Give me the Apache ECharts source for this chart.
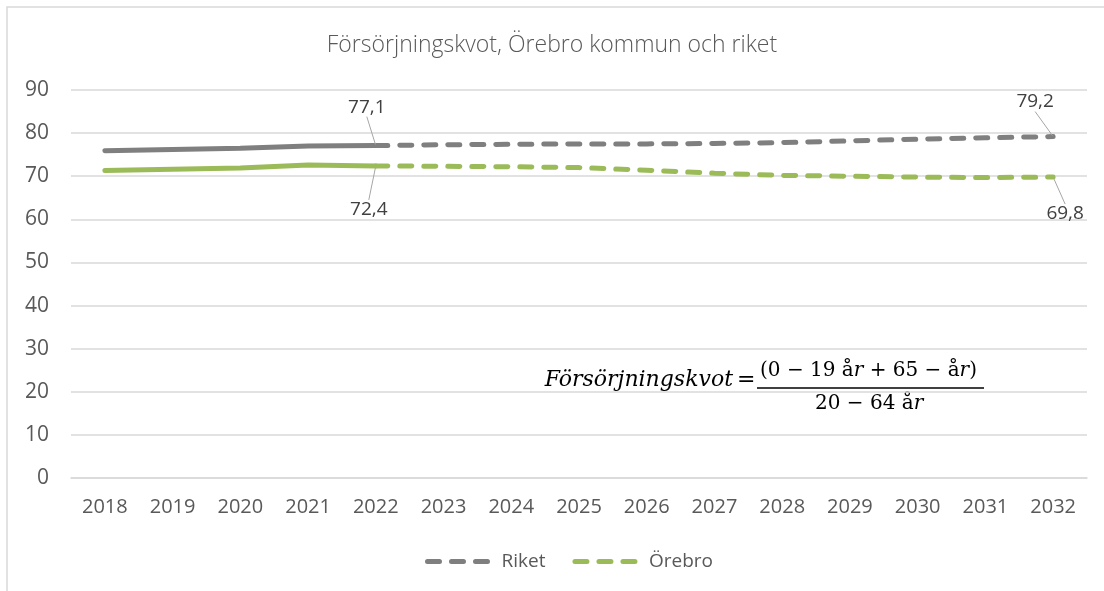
<!DOCTYPE html>
<html>
<head>
<meta charset="utf-8">
<script src="https://cdn.jsdelivr.net/npm/echarts@6/dist/echarts.min.js"></script>
<style>
  html, body { margin: 0; padding: 0; background: #fff; }
  #chart { width: 1104px; height: 591px; }
</style>
</head>
<body>
<div id="chart"></div>
<script>
const years = ['2018', '2019', '2020', '2021', '2022', '2023', '2024', '2025',
  '2026', '2027', '2028', '2029', '2030', '2031', '2032']
// utfall 2018-2022, prognos 2022-2032
const riketUtfall = [75.9, 76.2, 76.5, 77.0, 77.1, null, null, null, null, null, null, null, null, null, null]
const riketPrognos = [null, null, null, null, 77.1, 77.3, 77.4, 77.5, 77.5, 77.6, 77.8, 78.2, 78.6, 78.9, 79.2]
const orebroUtfall = [71.3, 71.6, 71.9, 72.6, 72.4, null, null, null, null, null, null, null, null, null, null]
const orebroPrognos = [null, null, null, null, 72.4, 72.3, 72.2, 72.0, 71.4, 70.7, 70.2, 70.0, 69.8, 69.7, 69.8]
const yTicks = [0, 10, 20, 30, 40, 50, 60, 70, 80, 90]

const grey = '#7f7f7f'
const green = '#9bbb59'
const textColor = '#595959'
const font = 'Open Sans'

// which points get a value label, and where it is moved
const labelled = {
  Riket: { 4: [-9, -23], 14: [-18, -19] },
  Örebro: { 4: [-7, 28], 14: [12, 21] }
}

function withLabels(values, name, pos) {
  return values.map((v, i) => {
    if (v === null || !labelled[name][i]) return v
    return {
      value: v,
      symbol: 'circle',
      symbolSize: 2,
      label: {
        show: true,
        position: pos,
        distance: 5,
        formatter: p => String(p.value).replace('.', ','),
        color: '#404040',
        fontSize: 19,
        fontFamily: font
      }
    }
  })
}

function moveLabel(name) {
  return params => {
    const d = labelled[name][params.dataIndex]
    return d ? { dx: d[0], dy: d[1] } : {}
  }
}

const math = '"DejaVu Serif"'

const chart = echarts.init(document.getElementById('chart'))
chart.setOption({
  animation: false,
  title: {
    text: 'Försörjningskvot, Örebro kommun och riket',
    left: 'center',
    top: 29,
    textStyle: { fontFamily: font, fontWeight: 300, fontSize: 23, color: textColor }
  },
  legend: {
    data: ['Riket', 'Örebro'],
    bottom: 15,
    left: 420,
    itemWidth: 65,
    itemHeight: 14,
    itemGap: 27,
    itemStyle: { opacity: 0 },
    lineStyle: { width: 5, type: [12, 12], cap: 'round' },
    textStyle: { fontFamily: font, fontSize: 19, color: textColor, padding: [0, 0, 0, 4] }
  },
  grid: { left: 71, right: 17, top: 90, bottom: 113 },
  xAxis: {
    type: 'category',
    data: years,
    boundaryGap: true,
    axisLine: { lineStyle: { color: '#d9d9d9', width: 1.5 } },
    axisTick: { show: false },
    axisLabel: { color: textColor, fontFamily: font, fontSize: 20, margin: 19 }
  },
  yAxis: {
    type: 'value',
    min: yTicks[0],
    max: yTicks[yTicks.length - 1],
    interval: 10,
    axisLine: { show: false },
    axisTick: { show: false },
    splitLine: { lineStyle: { color: '#d9d9d9', width: 1.5 } },
    axisLabel: { color: textColor, fontFamily: font, fontSize: 21, margin: 22 }
  },
  graphic: [
    {
      type: 'rect',
      shape: { x: 7, y: 7, width: 1110, height: 600 },
      style: { fill: 'none', stroke: '#d9d9d9', lineWidth: 1.5 },
      silent: true
    },
    {
      type: 'text',
      right: 1104 - 733,
      top: 369,
      style: { text: 'Försörjningskvot', font: 'italic 22px ' + math, fill: '#000' }
    },
    {
      type: 'text',
      left: 737,
      top: 369,
      style: { text: '=', font: '22px ' + math, fill: '#000' }
    },
    {
      type: 'text',
      left: 760,
      top: 361,
      style: {
        text: '{n|(0 − 19 å}{i|r}{n| + 65 − å}{i|r}{n|)}',
        rich: {
          n: { font: '20px ' + math, fill: '#000' },
          i: { font: 'italic 20px ' + math, fill: '#000' }
        }
      }
    },
    {
      type: 'line',
      shape: { x1: 757, y1: 388, x2: 984, y2: 388 },
      style: { stroke: '#000', lineWidth: 1.5 }
    },
    {
      type: 'text',
      left: 815,
      top: 394,
      style: {
        text: '{n|20 − 64 å}{i|r}',
        rich: {
          n: { font: '20px ' + math, fill: '#000' },
          i: { font: 'italic 20px ' + math, fill: '#000' }
        }
      }
    }
  ],
  series: [
    {
      name: 'Riket',
      type: 'line',
      data: withLabels(riketPrognos, 'Riket', 'top'),
      symbol: 'none',
      lineStyle: { color: grey, width: 5, type: [12, 12], cap: 'round' },
      itemStyle: { color: grey },
      labelLine: { show: true, lineStyle: { color: '#a6a6a6', width: 1 } },
      labelLayout: moveLabel('Riket'),
      z: 3
    },
    {
      name: 'Örebro',
      type: 'line',
      data: withLabels(orebroPrognos, 'Örebro', 'bottom'),
      symbol: 'none',
      lineStyle: { color: green, width: 5, type: [12, 12], cap: 'round' },
      itemStyle: { color: green },
      labelLine: { show: true, lineStyle: { color: '#a6a6a6', width: 1 } },
      labelLayout: moveLabel('Örebro'),
      z: 3
    },
    {
      name: 'Riket utfall',
      type: 'line',
      data: riketUtfall,
      symbol: 'none',
      lineStyle: { color: grey, width: 5, cap: 'round' },
      itemStyle: { color: grey },
      z: 2
    },
    {
      name: 'Örebro utfall',
      type: 'line',
      data: orebroUtfall,
      symbol: 'none',
      lineStyle: { color: green, width: 5, cap: 'round' },
      itemStyle: { color: green },
      z: 2
    }
  ]
})
</script>
</body>
</html>
